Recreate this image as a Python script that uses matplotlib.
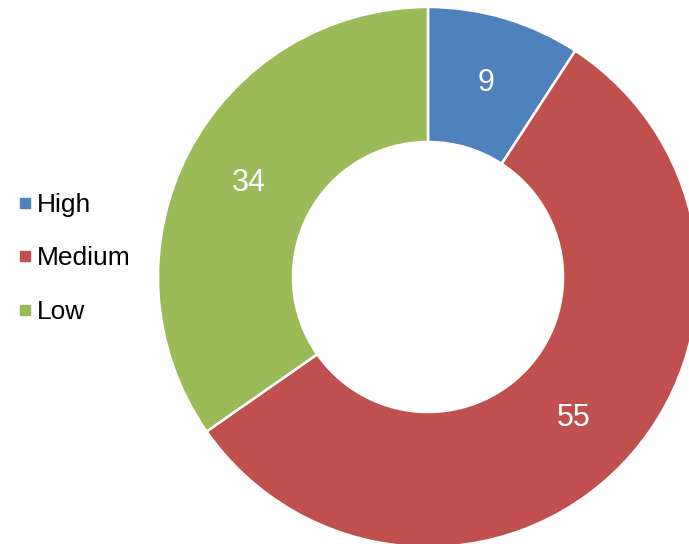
import matplotlib
matplotlib.use("Agg")
import matplotlib.pyplot as plt
from matplotlib.lines import Line2D

labels = ["High", "Medium", "Low"]
values = [9, 55, 34]
colors = ["#4F81BD", "#C0504D", "#9BBB59"]

plt.rcParams["font.family"] = ["Liberation Sans", "DejaVu Sans"]

W, H = 689, 544
cx, cy, R = 428, 277, 270

fig = plt.figure(figsize=(W / 100, H / 100), dpi=100)
ax = fig.add_axes([0, 0, 1, 1])

wedges, texts = ax.pie(
    values,
    colors=colors,
    startangle=90,
    counterclock=False,
    radius=1,
    labels=[str(v) for v in values],
    labeldistance=0.75,
    wedgeprops=dict(width=0.5, edgecolor="white", linewidth=1.8),
    textprops=dict(color="white", fontsize=22, ha="center", va="center"),
)

ax.set_xlim(-cx / R, (W - cx) / R)
ax.set_ylim(-(H - cy) / R, cy / R)
ax.set_aspect("auto")
ax.axis("off")

handles = [Line2D([], [], marker="s", linestyle="", markersize=7.5,
                  markerfacecolor=c, markeredgecolor=c) for c in colors]
fig.legend(handles, labels, loc="center left", bbox_to_anchor=(0.012, 0.525),
           frameon=False, fontsize=19, handlelength=0.45, handletextpad=0.22,
           labelspacing=1.12, borderaxespad=0)

fig.savefig("out.png", dpi=100)
